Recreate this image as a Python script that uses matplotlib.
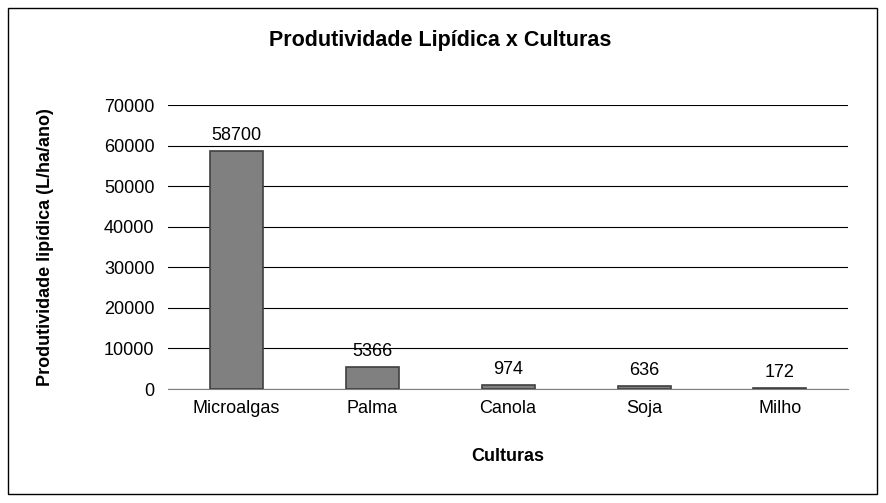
import matplotlib.pyplot as plt
from matplotlib.patches import Rectangle

culturas = ['Microalgas', 'Palma', 'Canola', 'Soja', 'Milho']
produtividade = [58700, 5366, 974, 636, 172]

plt.rcParams['font.family'] = ['Liberation Sans', 'DejaVu Sans']

fig = plt.figure(figsize=(8.86, 5.03), dpi=100)
ax = fig.add_axes([0.19, 0.2266, 0.767, 0.5644])

x = range(len(culturas))
ax.bar(x, produtividade, width=0.39, color='#808080', edgecolor='#404040',
       linewidth=1.2, zorder=3)
for i, v in zip(x, produtividade):
    ax.text(i, v + 1800, str(v), ha='center', va='bottom', fontsize=13)

ax.set_xlim(-0.5, len(culturas) - 0.5)
ax.set_ylim(0, 70000)
ax.set_yticks(range(0, 70001, 10000))
ax.set_xticks(list(x))
ax.set_xticklabels(culturas)
ax.tick_params(axis='both', labelsize=13, length=0)
ax.tick_params(axis='y', pad=10)
ax.tick_params(axis='x', pad=8)
ax.grid(axis='y', color='black', linewidth=0.8, zorder=0)
for s in ['top', 'right', 'left']:
    ax.spines[s].set_visible(False)
ax.spines['bottom'].set_color('#808080')

ax.set_ylabel('Produtividade lipídica (L/ha/ano)', fontsize=13, fontweight='bold', labelpad=36)
ax.set_xlabel('Culturas', fontsize=13, fontweight='bold', labelpad=22)
fig.text(0.497, 0.92, 'Produtividade Lipídica x Culturas', ha='center', va='center',
         fontsize=15.5, fontweight='bold')

fig.patches.append(Rectangle((0.009, 0.018), 0.981, 0.966, transform=fig.transFigure,
                             fill=False, edgecolor='black', linewidth=1))

fig.savefig('out.png', dpi=100, facecolor='white')
